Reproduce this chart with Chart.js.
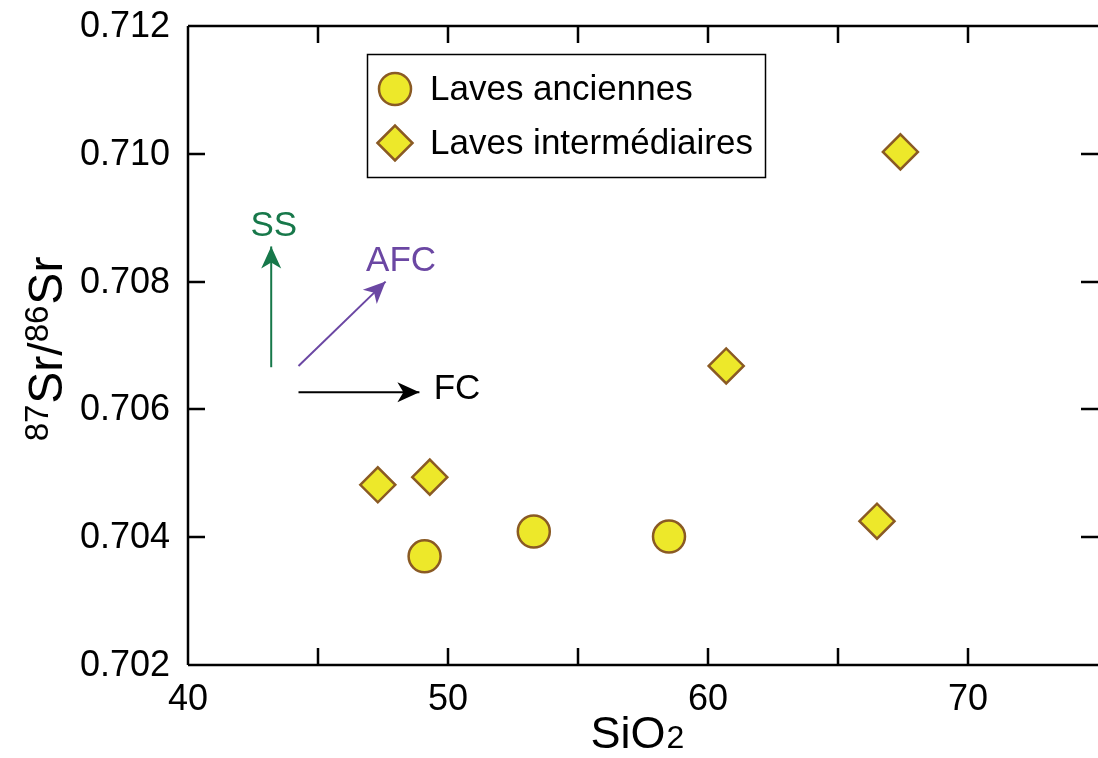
<!DOCTYPE html>
<html>
<head>
<meta charset="utf-8">
<script src="https://cdn.jsdelivr.net/npm/chart.js@4.4.0/dist/chart.umd.min.js"></script>
<style>
  html, body { margin: 0; padding: 0; background: #fff; overflow: hidden; }
  #wrap { width: 1098px; height: 758px; overflow: hidden; }
  canvas { display: block; }
</style>
</head>
<body>
<div id="wrap"><canvas id="chart" width="1118" height="758"></canvas></div>
<script>
// Donnees
const ancX = [49.1, 53.3, 58.5];
const ancY = [0.70370, 0.70409, 0.70401];
const intX = [47.3, 49.3, 60.7, 66.5, 67.4];
const intY = [0.70482, 0.70494, 0.70668, 0.70425, 0.71003];
const seriesNames = ['Laves anciennes', 'Laves intermédiaires'];

// Fleches (debut, fin) et etiquettes
const arrowNames = ['SS', 'AFC', 'FC'];
const arrowX = [[43.2, 43.2], [44.25, 47.6], [44.25, 48.9]];
const arrowY = [[0.70666, 0.70855], [0.70668, 0.70800], [0.70627, 0.70627]];
const arrowLabelX = [43.3, 46.85, 49.45];
const arrowLabelY = [0.70887, 0.70831, 0.70632];

const xTicks = [40, 45, 50, 55, 60, 65, 70, 75];
const xLabels = ['40', '', '50', '', '60', '', '70', ''];
const yTicks = [0.702, 0.704, 0.706, 0.708, 0.710, 0.712];
const yLabels = ['0.702', '0.704', '0.706', '0.708', '0.710', '0.712'];

const FONT = '"Liberation Sans", Arial, Helvetica, sans-serif';
const fill = '#ede82a';
const edge = '#8a5a24';
const arrowColors = ['#17784a', '#6b47a3', '#000000'];

const toPts = (xs, ys) => xs.map((x, i) => ({ x: x, y: ys[i] }));

const datasets = [
  {
    label: seriesNames[0], data: toPts(ancX, ancY), pointStyle: 'circle',
    pointRadius: 16, backgroundColor: fill, borderColor: edge, borderWidth: 2.5, showLine: false
  },
  {
    label: seriesNames[1], data: toPts(intX, intY), pointStyle: 'rectRot',
    pointRadius: 17.5, backgroundColor: fill, borderColor: edge, borderWidth: 2.5, showLine: false
  }
];
arrowNames.forEach((name, i) => {
  datasets.push({
    label: name, type: 'line', data: toPts(arrowX[i], arrowY[i]),
    borderColor: arrowColors[i], borderWidth: 2, pointRadius: 0, showLine: true, fill: false
  });
});

// Dessin des cadres, ticks interieurs, etiquettes, legende, titres et pointes de fleches
const decor = {
  id: 'decor',
  afterDraw(chart) {
    const ctx = chart.ctx;
    const a = chart.chartArea;
    const xs = chart.scales.x, ys = chart.scales.y;
    const right = Math.min(a.right, 1098);
    ctx.save();
    ctx.strokeStyle = '#000';
    ctx.lineWidth = 2.5;
    ctx.beginPath();
    ctx.moveTo(a.left, a.top); ctx.lineTo(right, a.top);
    ctx.moveTo(a.left, a.top); ctx.lineTo(a.left, a.bottom);
    ctx.moveTo(a.left, a.bottom); ctx.lineTo(right, a.bottom);
    ctx.stroke();

    const tl = 17;
    ctx.beginPath();
    xTicks.slice(1, -1).forEach(v => {
      const px = Math.round(xs.getPixelForValue(v));
      ctx.moveTo(px, a.top); ctx.lineTo(px, a.top + tl);
      ctx.moveTo(px, a.bottom); ctx.lineTo(px, a.bottom - tl);
    });
    yTicks.slice(1, -1).forEach(v => {
      const py = Math.round(ys.getPixelForValue(v));
      ctx.moveTo(a.left, py); ctx.lineTo(a.left + tl, py);
      ctx.moveTo(right, py); ctx.lineTo(right - tl, py);
    });
    ctx.stroke();

    // etiquettes des axes
    ctx.fillStyle = '#000';
    ctx.font = '36px ' + FONT;
    ctx.textBaseline = 'middle';
    ctx.textAlign = 'right';
    yTicks.forEach((v, i) => ctx.fillText(yLabels[i], a.left - 18, ys.getPixelForValue(v) + 1));
    ctx.textAlign = 'center';
    xTicks.forEach((v, i) => ctx.fillText(xLabels[i], xs.getPixelForValue(v), a.bottom + 35));

    // pointes de fleches
    arrowNames.forEach((name, i) => {
      const x0 = xs.getPixelForValue(arrowX[i][0]), y0 = ys.getPixelForValue(arrowY[i][0]);
      const x1 = xs.getPixelForValue(arrowX[i][1]), y1 = ys.getPixelForValue(arrowY[i][1]);
      const ang = Math.atan2(y1 - y0, x1 - x0);
      ctx.save();
      ctx.translate(x1, y1);
      ctx.rotate(ang);
      ctx.fillStyle = arrowColors[i];
      ctx.beginPath();
      ctx.moveTo(0, 0);
      ctx.lineTo(-22, -10);
      ctx.lineTo(-16, 0);
      ctx.lineTo(-22, 10);
      ctx.closePath();
      ctx.fill();
      ctx.restore();

      ctx.fillStyle = arrowColors[i];
      ctx.font = '35px ' + FONT;
      ctx.textBaseline = 'middle';
      ctx.textAlign = i === 0 ? 'center' : 'left';
      ctx.fillText(name, xs.getPixelForValue(arrowLabelX[i]), ys.getPixelForValue(arrowLabelY[i]));
    });

    // legende
    ctx.lineWidth = 1.5;
    ctx.strokeStyle = '#000';
    ctx.strokeRect(367.5, 54.5, 398, 123);
    ctx.font = '35px ' + FONT;
    ctx.textAlign = 'left';
    ctx.textBaseline = 'middle';
    [89, 143].forEach((ly, i) => {
      const ds = datasets[i];
      ctx.fillStyle = ds.backgroundColor;
      ctx.strokeStyle = ds.borderColor;
      ctx.lineWidth = ds.borderWidth;
      ctx.beginPath();
      if (ds.pointStyle === 'circle') {
        ctx.arc(395, ly, ds.pointRadius, 0, Math.PI * 2);
      } else {
        const r = ds.pointRadius;
        ctx.moveTo(395 - r, ly); ctx.lineTo(395, ly - r);
        ctx.lineTo(395 + r, ly); ctx.lineTo(395, ly + r);
        ctx.closePath();
      }
      ctx.fill(); ctx.stroke();
      ctx.fillStyle = '#000';
      ctx.fillText(seriesNames[i], 430, ly + 1);
    });

    // titre axe x : SiO2
    ctx.fillStyle = '#000';
    ctx.textBaseline = 'alphabetic';
    ctx.font = '45px ' + FONT;
    const base = 748;
    const w1 = ctx.measureText('SiO').width;
    ctx.font = '32px ' + FONT;
    const w2 = ctx.measureText('2').width;
    const sx = 637 - (w1 + w2) / 2;
    ctx.font = '45px ' + FONT;
    ctx.fillText('SiO', sx, base);
    ctx.font = '32px ' + FONT;
    ctx.fillText('2', sx + w1 + 1, base);

    // titre axe y : 87Sr/86Sr
    ctx.save();
    ctx.translate(62, 350);
    ctx.rotate(-Math.PI / 2);
    const parts = [['87', true], ['Sr/', false], ['86', true], ['Sr', false]];
    let total = 0;
    parts.forEach(p => { ctx.font = (p[1] ? '33px ' : '48px ') + FONT; total += ctx.measureText(p[0]).width; });
    let px = -total / 2;
    parts.forEach(p => {
      ctx.font = (p[1] ? '33px ' : '48px ') + FONT;
      ctx.fillText(p[0], px, p[1] ? -14 : 0);
      px += ctx.measureText(p[0]).width + (p[1] ? 1 : 0);
    });
    ctx.restore();
    ctx.restore();
  }
};

new Chart(document.getElementById('chart'), {
  type: 'scatter',
  data: { datasets: datasets },
  options: {
    responsive: false,
    animation: false,
    layout: { padding: { top: 26, right: 0, left: 0, bottom: 0 } },
    plugins: { legend: { display: false }, tooltip: { enabled: false } },
    scales: {
      x: {
        type: 'linear', min: 40, max: 75,
        afterFit: s => { s.height = 93; },
        grid: { display: false, drawTicks: false },
        border: { display: false },
        ticks: { display: false }
      },
      y: {
        type: 'linear', min: 0.702, max: 0.712,
        afterFit: s => { s.width = 188; },
        grid: { display: false, drawTicks: false },
        border: { display: false },
        ticks: { display: false }
      }
    }
  },
  plugins: [decor]
});
</script>
</body>
</html>
